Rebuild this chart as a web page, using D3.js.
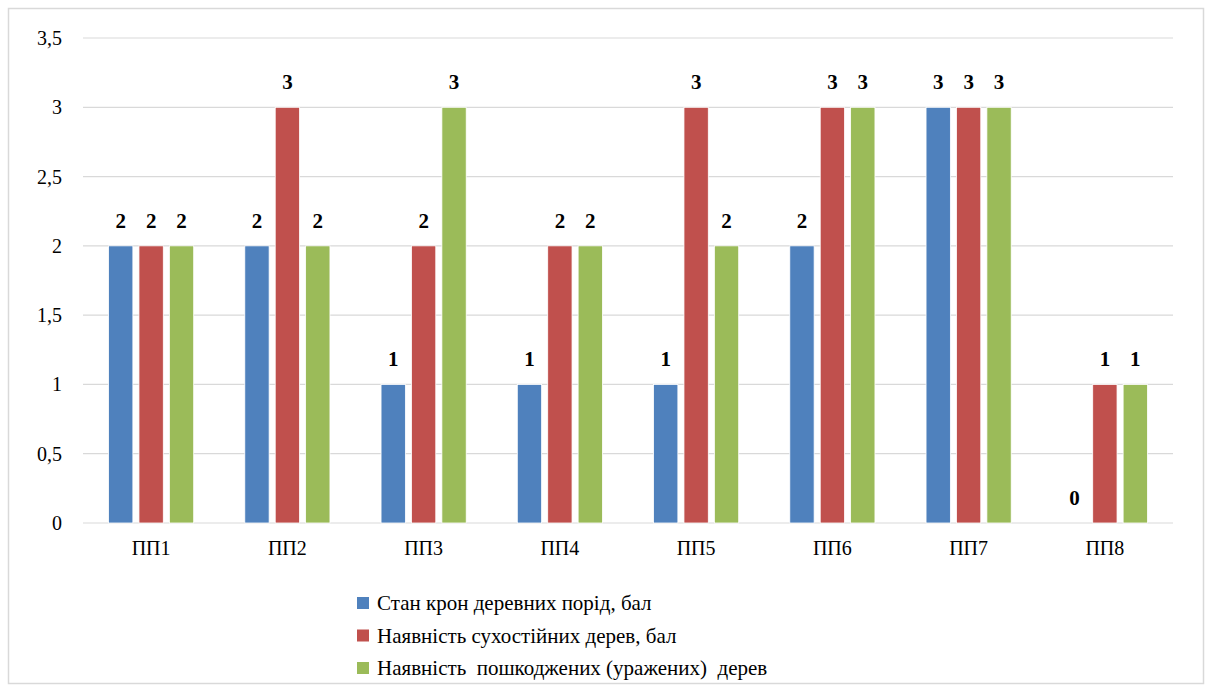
<!DOCTYPE html>
<html>
<head>
<meta charset="utf-8">
<script src="https://cdn.jsdelivr.net/npm/d3@7"></script>
<style>
  html, body { margin: 0; padding: 0; background: #fff; }
  svg { display: block; }
</style>
</head>
<body>
<svg id="chart" width="1206" height="686"></svg>
<script>
// Plots (пробні площі)
const categories = ["ПП1", "ПП2", "ПП3", "ПП4", "ПП5", "ПП6", "ПП7", "ПП8"];
const seriesNames = [
  "Стан крон деревних порід, бал",
  "Наявність сухостійних дерев, бал",
  "Наявність  пошкоджених (уражених)  дерев"
];
const crownState = [2, 2, 1, 1, 1, 2, 3, 0];
const deadStanding = [2, 3, 2, 2, 3, 3, 3, 1];
const damagedTrees = [2, 2, 3, 2, 2, 3, 3, 1];
const yTicks = [0, 0.5, 1, 1.5, 2, 2.5, 3, 3.5];
const colors = ["#4F81BD", "#C0504D", "#9BBB59"];

const seriesValues = [crownState, deadStanding, damagedTrees];
const SERIF = "Liberation Serif";

const svg = d3.select("#chart");
const W = 1206, H = 686;
const margin = { left: 83, right: 33, top: 38, bottom: 163 };
const plotR = W - margin.right;
const plotB = H - margin.bottom;

// outer frame
svg.append("rect")
  .attr("x", 8.5).attr("y", 8.5)
  .attr("width", 1195).attr("height", 675)
  .attr("fill", "#fff").attr("stroke", "#d9d9d9").attr("stroke-width", 1.5);

const y = d3.scaleLinear().domain([0, 3.5]).range([plotB, margin.top]);
const x0 = d3.scaleBand().domain(categories).range([margin.left, plotR])
  .paddingInner(0.375).paddingOuter(0.1875);
const x1 = d3.scaleBand().domain(d3.range(seriesNames.length)).range([0, x0.bandwidth()])
  .paddingInner(0.2).paddingOuter(0);

const fmt = v => String(v).replace(".", ",");

// gridlines
svg.append("g").selectAll("line").data(yTicks).join("line")
  .attr("x1", margin.left).attr("x2", plotR)
  .attr("y1", d => y(d)).attr("y2", d => y(d))
  .attr("stroke", "#d9d9d9").attr("stroke-width", 1.2);

// y labels
svg.append("g").selectAll("text").data(yTicks).join("text")
  .attr("x", 62).attr("y", d => y(d)).attr("dy", "0.35em")
  .attr("text-anchor", "end")
  .attr("font-family", SERIF).attr("font-size", 20).attr("fill", "#000")
  .text(fmt);

// category labels
svg.append("g").selectAll("text").data(categories).join("text")
  .attr("x", d => x0(d) + x0.bandwidth() / 2).attr("y", plotB + 32)
  .attr("text-anchor", "middle")
  .attr("font-family", SERIF).attr("font-size", 20).attr("fill", "#000")
  .text(d => d);

// bars
const rows = categories.map((c, i) => ({ cat: c, vals: seriesValues.map(s => s[i]) }));
const groups = svg.append("g").selectAll("g").data(rows).join("g")
  .attr("transform", d => `translate(${x0(d.cat)},0)`);

groups.selectAll("rect").data(d => d.vals.map((v, k) => ({ v, k }))).join("rect")
  .attr("x", d => x1(d.k))
  .attr("width", x1.bandwidth())
  .attr("y", d => y(d.v))
  .attr("height", d => y(0) - y(d.v))
  .attr("fill", d => colors[d.k])
  .attr("stroke", "#fff").attr("stroke-width", 0.8);

groups.selectAll("text").data(d => d.vals.map((v, k) => ({ v, k }))).join("text")
  .attr("x", d => x1(d.k) + x1.bandwidth() / 2)
  .attr("y", d => y(d.v) - 18)
  .attr("text-anchor", "middle")
  .attr("font-family", SERIF).attr("font-size", 21).attr("font-weight", "bold")
  .text(d => fmt(d.v));

// legend
const legend = svg.append("g").attr("transform", "translate(357,603)");
seriesNames.forEach((name, k) => {
  const g = legend.append("g").attr("transform", `translate(0,${k * 32.5})`);
  g.append("rect").attr("x", 0).attr("y", -6).attr("width", 12).attr("height", 12).attr("fill", colors[k]);
  g.append("text").attr("x", 20).attr("y", 7)
    .attr("font-family", SERIF).attr("font-size", 21)
    .attr("xml:space", "preserve").text(name);
});
</script>
</body>
</html>
